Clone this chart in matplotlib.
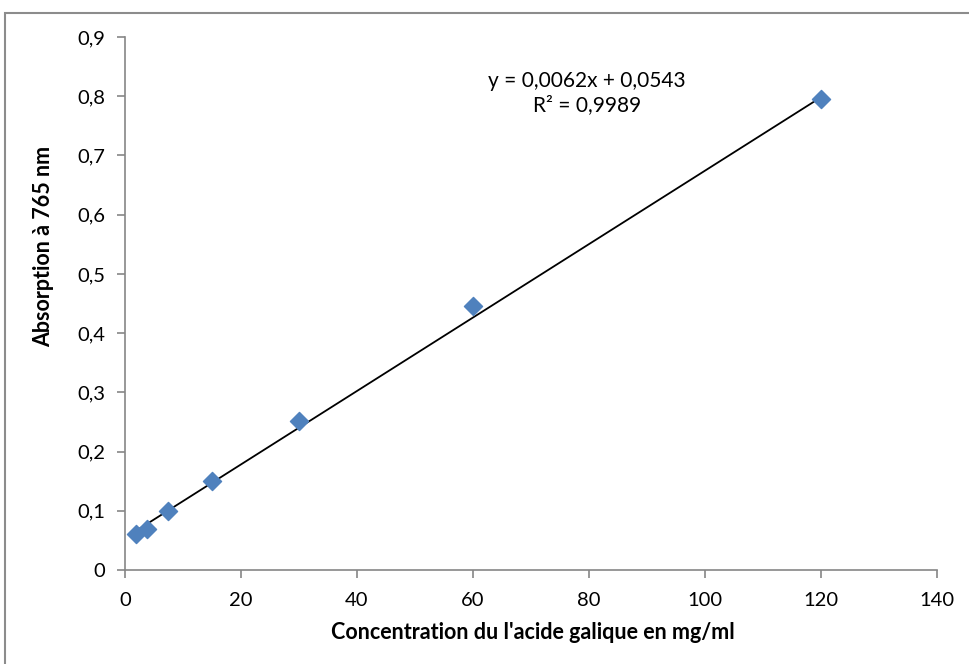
import matplotlib
matplotlib.use("Agg")
import matplotlib.pyplot as plt
from matplotlib.patches import Rectangle
import numpy as np

# data
concentration = [1.875, 3.75, 7.5, 15, 30, 60, 120]
absorbance = [0.060, 0.070, 0.100, 0.150, 0.252, 0.445, 0.795]
slope, intercept = 0.0062, 0.0543
x_ticks = [0, 20, 40, 60, 80, 100, 120, 140]
y_ticks = [0, 0.1, 0.2, 0.3, 0.4, 0.5, 0.6, 0.7, 0.8, 0.9]

plt.rcParams["font.family"] = ["Lato", "DejaVu Sans"]

fig = plt.figure(figsize=(9.7, 6.64), dpi=100)
W, H = 970, 664
ax = fig.add_axes([125 / W, 1 - 570 / H, (937 - 125) / W, (570 - 37) / H])

# outer chart frame (runs off the right and bottom edge)
fig.patches.append(Rectangle((5 / W, -0.05), 1.1, 1 - 13 / H + 0.05,
                             transform=fig.transFigure, fill=False,
                             edgecolor="#8c8c8c", linewidth=1.5))

fit_x = np.array([concentration[0], concentration[-1]])
ax.plot(fit_x, slope * fit_x + intercept, color="black", linewidth=1.3, zorder=2)
ax.scatter(concentration, absorbance, marker="D", s=85, color="#4F81BD",
           edgecolors="#4F81BD", zorder=3)

ax.set_xlim(0, 140)
ax.set_ylim(0, 0.9)
ax.set_xticks(x_ticks)
ax.set_yticks(y_ticks)
ax.set_xticklabels([str(v) for v in x_ticks])
ax.set_yticklabels(["0" if v == 0 else f"{v:.1f}".replace(".", ",") for v in y_ticks])

for side in ("top", "right"):
    ax.spines[side].set_visible(False)
for side in ("left", "bottom"):
    ax.spines[side].set_color("#868686")
    ax.spines[side].set_linewidth(1.2)
ax.tick_params(direction="out", length=6, width=1.2, color="#868686",
               labelsize=14.5, labelcolor="black")
ax.tick_params(axis="x", pad=10)
ax.tick_params(axis="y", pad=8)

ax.set_xlabel("Concentration du l'acide galique en mg/ml", fontsize=15.5,
              fontweight="bold")
ax.xaxis.set_label_coords(0.502, (570 - 622) / 533)
ax.set_ylabel("Absorption à 765 nm", fontsize=15.5, fontweight="bold")
ax.yaxis.set_label_coords((54 - 125) / 812, (570 - 246) / 533)

ax.text(587 / W, 1 - 81 / H, "y = 0,0062x + 0,0543", transform=fig.transFigure,
        ha="center", va="center", fontsize=15)
ax.text(587 / W, 1 - 105 / H, "R² = 0,9989", transform=fig.transFigure,
        ha="center", va="center", fontsize=15)

fig.savefig("out.png", dpi=100)
